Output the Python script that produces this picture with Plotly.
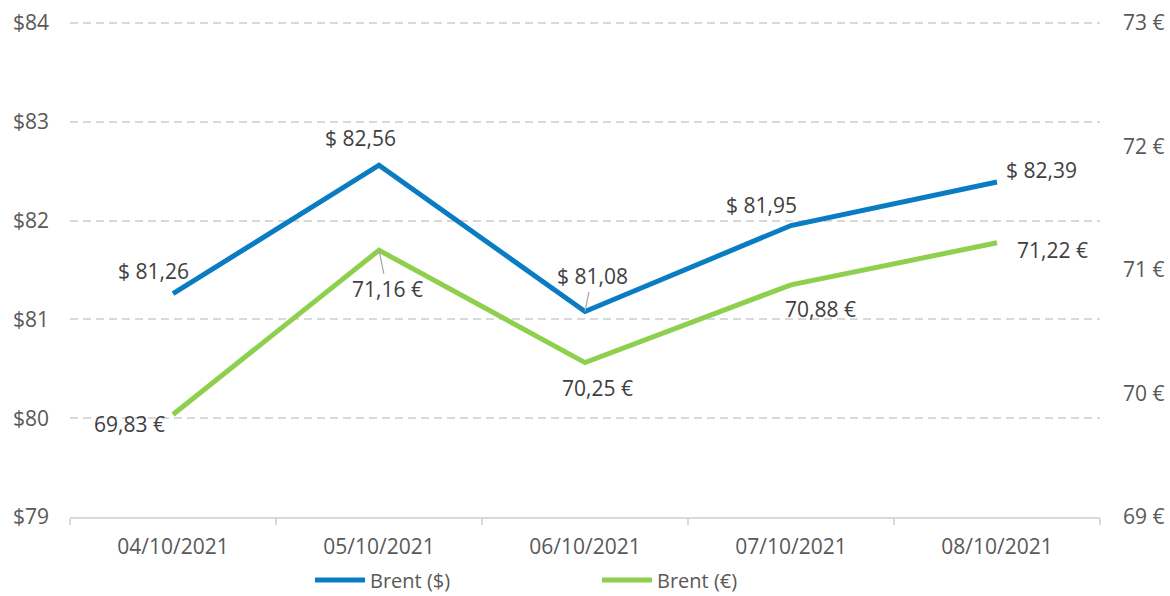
import plotly.graph_objects as go

dates = ["04/10/2021", "05/10/2021", "06/10/2021", "07/10/2021", "08/10/2021"]
brent_usd = [81.26, 82.56, 81.08, 81.95, 82.39]
brent_eur = [69.83, 71.16, 70.25, 70.88, 71.22]

usd_labels = ["$ 81,26", "$ 82,56", "$ 81,08", "$ 81,95", "$ 82,39"]
eur_labels = ["69,83 €", "71,16 €", "70,25 €", "70,88 €", "71,22 €"]

# label offsets in px (dx right, dy up)
usd_offsets = [(-20, 23), (-19, 27), (7, 35), (-30, 21), (44, 12)]
eur_offsets = [(-44, -10), (8, -39), (12, -25), (29, -24), (55, -7)]
leaders_usd = {2}
leaders_eur = {1}

BLUE = "#0A7CC4"
GREEN = "#8ED04E"
FONT = "Open Sans"

fig = go.Figure()
fig.add_trace(
    go.Scatter(
        x=dates,
        y=brent_usd,
        mode="lines",
        name="Brent ($)",
        line=dict(color=BLUE, width=5),
        yaxis="y",
        hoverinfo="skip",
    )
)
fig.add_trace(
    go.Scatter(
        x=dates,
        y=brent_eur,
        mode="lines",
        name="Brent (€)",
        line=dict(color=GREEN, width=5),
        yaxis="y2",
        hoverinfo="skip",
    )
)


def add_labels(values, labels, offsets, leaders, yref):
    for i, (d, v, t, (dx, dy)) in enumerate(zip(dates, values, labels, offsets)):
        common = dict(
            x=d,
            y=v,
            xref="x",
            yref=yref,
            text=t,
            font=dict(family=FONT, size=21, color="#404040"),
        )
        if i in leaders:
            fig.add_annotation(
                **common,
                showarrow=True,
                arrowhead=0,
                arrowwidth=1.2,
                arrowcolor="#A6A6A6",
                ax=dx,
                ay=-dy,
                standoff=0,
            )
        else:
            fig.add_annotation(**common, showarrow=False, xshift=dx, yshift=dy)


add_labels(brent_usd, usd_labels, usd_offsets, leaders_usd, "y")
add_labels(brent_eur, eur_labels, eur_offsets, leaders_eur, "y2")

# top of the ranges pushed out a hair so plotly keeps the $84 gridline
fig.update_layout(
    width=1170,
    height=596,
    margin=dict(l=70, r=70, t=21, b=79, autoexpand=False),
    paper_bgcolor="white",
    plot_bgcolor="white",
    font=dict(family=FONT, size=21, color="#595959"),
    showlegend=True,
    legend=dict(
        orientation="h",
        x=0.233,
        xanchor="left",
        yref="container",
        y=0.027,
        yanchor="middle",
        font=dict(size=20, color="#595959"),
        entrywidth=222,
        itemwidth=50,
    ),
    xaxis=dict(
        type="category",
        range=[-0.5, 4.5],
        automargin=False,
        showgrid=False,
        showline=True,
        linecolor="#D9D9D9",
        linewidth=1.5,
        ticks="outside",
        tickson="boundaries",
        ticklen=6,
        tickcolor="#D9D9D9",
        tickwidth=1.5,
        ticklabelstandoff=10,
    ),
    yaxis=dict(
        range=[79, 84.02],
        dtick=1,
        tick0=79,
        tickprefix="$",
        tickformat="d",
        automargin=False,
        showgrid=True,
        gridcolor="#D9D9D9",
        gridwidth=1.5,
        griddash="8px,5px",
        zeroline=False,
        showline=False,
        ticklabelstandoff=20,
    ),
    yaxis2=dict(
        range=[69, 73.016],
        dtick=1,
        tick0=69,
        ticksuffix=" €",
        tickformat="d",
        automargin=False,
        overlaying="y",
        side="right",
        showgrid=False,
        zeroline=False,
        showline=False,
        ticklabelstandoff=22,
    ),
)

fig.write_html(
    "out.html",
    config={"displayModeBar": False},
    post_script="document.body.style.margin='0';document.body.style.overflow='hidden';",
)
